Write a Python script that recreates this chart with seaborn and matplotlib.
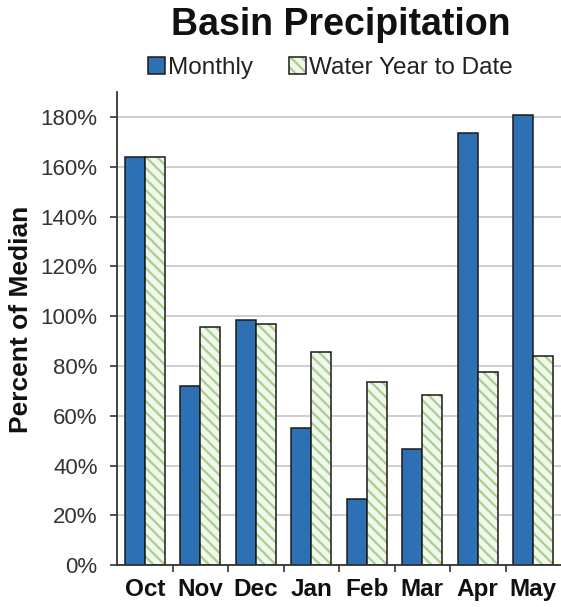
import matplotlib
matplotlib.use("Agg")
import matplotlib.pyplot as plt
from matplotlib.colors import to_rgba
from matplotlib.ticker import FixedLocator, PercentFormatter
import seaborn as sns
import pandas as pd

months = ["Oct", "Nov", "Dec", "Jan", "Feb", "Mar", "Apr", "May"]
monthly = [164, 72, 98.5, 55, 26.5, 46.5, 173.5, 180.8]
water_year_to_date = [164, 95.5, 97, 85.5, 73.5, 68.5, 77.5, 84]
series_names = ["Monthly", "Water Year to Date"]

df = pd.DataFrame({
    "Month": months * 2,
    "Series": [series_names[0]] * len(months) + [series_names[1]] * len(months),
    "Pct": monthly + water_year_to_date,
})

sns.set_theme(style="white")
plt.rcParams["font.family"] = ["Liberation Sans", "DejaVu Sans"]
plt.rcParams["hatch.linewidth"] = 1.6

blue = "#2E70B4"
green_face = "#F1F7EC"
green_hatch = "#A8D08D"

fig = plt.figure(figsize=(5.61, 6.07), dpi=100)
ax = fig.add_axes([0.2086, 0.069, 0.7914, 0.779])

sns.barplot(data=df, x="Month", y="Pct", hue="Series", order=months,
            hue_order=series_names, palette=[blue, green_face],
            width=0.72, gap=0.0, edgecolor="#1a1a1a", linewidth=1.1,
            saturation=1, ax=ax, legend=True)

# hatch the cumulative series with green diagonal stripes
n = len(months)
for p in ax.patches[n:2 * n]:
    p.set_hatch("\\\\\\")
    p._hatch_color = to_rgba(green_hatch)

handles, labels = ax.get_legend_handles_labels()
ax.legend_.remove()
for h in handles[1:]:
    h.set_hatch("\\\\\\")
    h._hatch_color = to_rgba(green_hatch)
fig.legend(handles, labels, loc="center", bbox_to_anchor=(0.589, 0.888),
           ncol=2, frameon=False, fontsize=17.5, handlelength=0.7,
           handleheight=0.7, handletextpad=0.1, columnspacing=1.5,
           labelcolor="#222222", borderpad=0.2)

fig.text(0.608, 0.959, "Basin Precipitation", ha="center", va="center",
         fontsize=27, fontweight="bold", color="#111111")

ax.set_ylim(0, 190)
ax.set_xlim(-0.5, n - 0.5)
ax.yaxis.set_major_locator(FixedLocator(list(range(0, 181, 20))))
ax.yaxis.set_major_formatter(PercentFormatter(decimals=0))
ax.grid(axis="y", color="#cfcfcf", linewidth=1.4)
ax.set_axisbelow(True)

ax.set_xlabel("")
ax.set_ylabel("Percent of Median", fontsize=19, fontweight="bold",
              color="#111111")
ax.yaxis.set_label_coords(-0.19, 0.52)
ax.tick_params(axis="y", labelsize=16, labelcolor="#333333", length=5,
               width=1.2, direction="out", left=True, color="#333333", pad=9)
ax.tick_params(axis="x", which="major", labelsize=17.5, length=0, pad=9,
               labelcolor="#111111")
for t in ax.get_xticklabels():
    t.set_fontweight("bold")
ax.set_xticks([i + 0.5 for i in range(n - 1)], minor=True)
ax.tick_params(axis="x", which="minor", length=5, width=1.2,
               direction="out", bottom=True, color="#333333")

for s in ["top", "right"]:
    ax.spines[s].set_visible(False)
for s in ["left", "bottom"]:
    ax.spines[s].set_color("#333333")
    ax.spines[s].set_linewidth(1.3)

fig.savefig("out.png", dpi=100)
